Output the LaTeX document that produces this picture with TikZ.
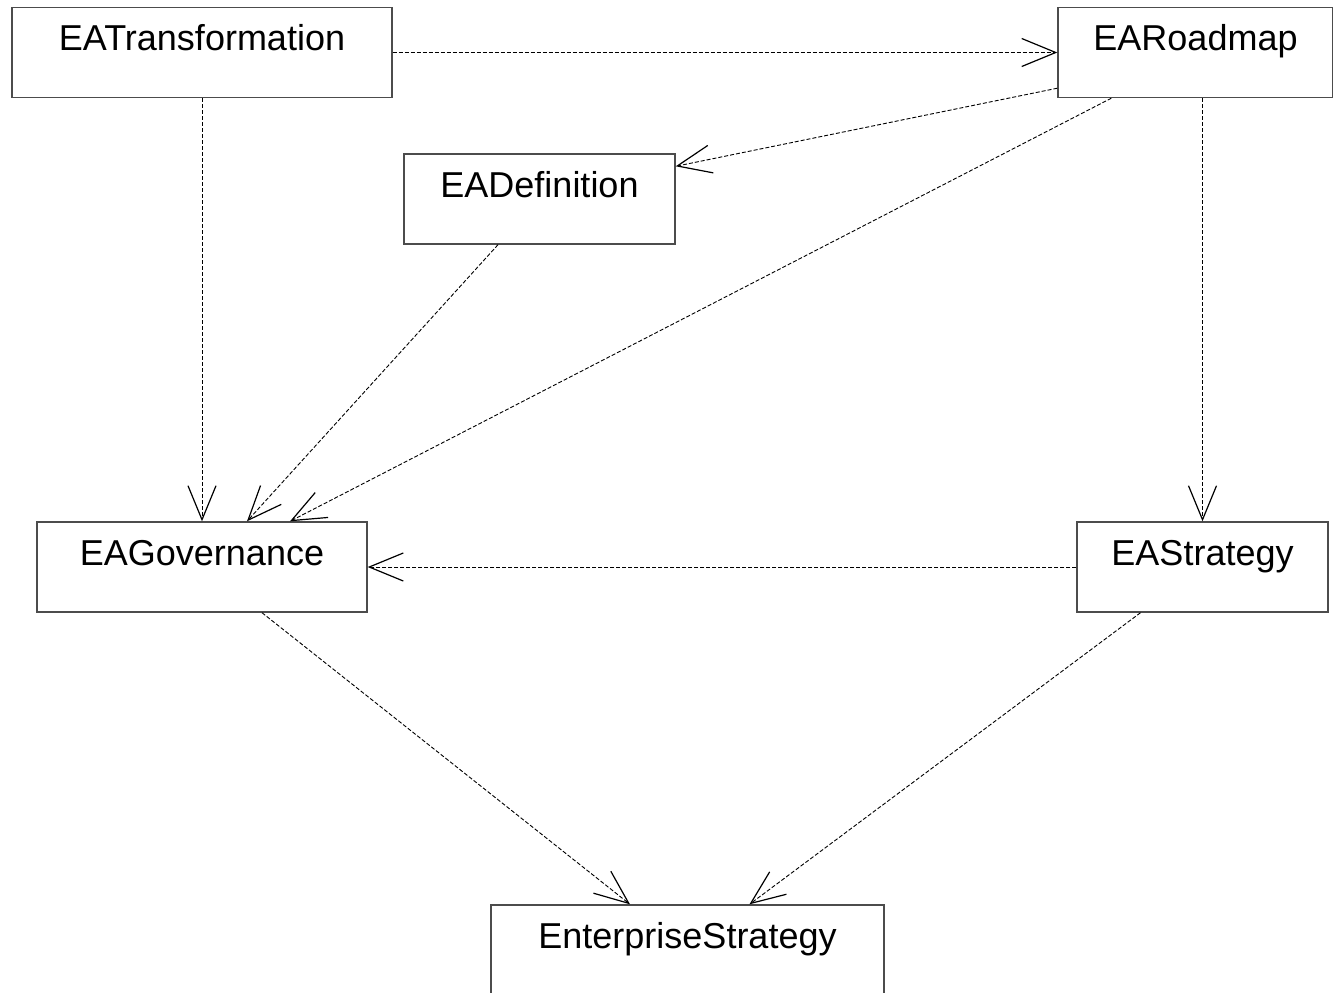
\documentclass[tikz,border=0pt]{standalone}
\usepackage{fontspec}
\setmainfont{Liberation Sans}
\usetikzlibrary{arrows.meta}
\begin{document}
\begin{tikzpicture}[
x=0.5pt, y=-0.5pt,
cls/.style={rectangle, draw=black!70, line width=0.7pt, inner xsep=0pt, inner ysep=0pt,
  text height=21.5pt, text depth=23.5pt, font=\fontsize{18}{21}\selectfont},
dep/.style={draw, line width=0.45pt, dash pattern=on 2pt off 1pt,
  -{Straight Barb[length=17pt, width=14pt, line width=0.6pt]}},
]
\useasboundingbox (0,0) rectangle (1333,992);
\node[cls, minimum width=190pt] (T) at (202,52.5) {EATransformation};
\node[cls, minimum width=137.5pt] (R) at (1195.5,52.5) {EARoadmap};
\node[cls, minimum width=135.5pt] (D) at (539.5,199) {EADefinition};
\node[cls, minimum width=165pt] (G) at (202,567) {EAGovernance};
\node[cls, minimum width=125.5pt] (S) at (1202.5,567) {EAStrategy};
\node[cls, minimum width=196.5pt] (E) at (687.5,950) {EnterpriseStrategy};
\draw[dep] (T.east) -- (R.west);
\draw[dep] (T.south) -- (G.north);
\draw[dep] ([yshift=5pt]R.south west) -- ([yshift=-6.5pt]D.north east);
\draw[dep] ([xshift=27pt]R.south west) -- ([xshift=44pt]G.north);
\draw[dep] ([xshift=-20.75pt]D.south) -- ([xshift=22.5pt]G.north);
\draw[dep] (R.south -| S.north) -- (S.north);
\draw[dep] (S.west) -- (G.east);
\draw[dep] ([xshift=30pt]G.south) -- ([xshift=-28.75pt]E.north);
\draw[dep] ([xshift=-31pt]S.south) -- ([xshift=31pt]E.north);
\end{tikzpicture}
\end{document}
